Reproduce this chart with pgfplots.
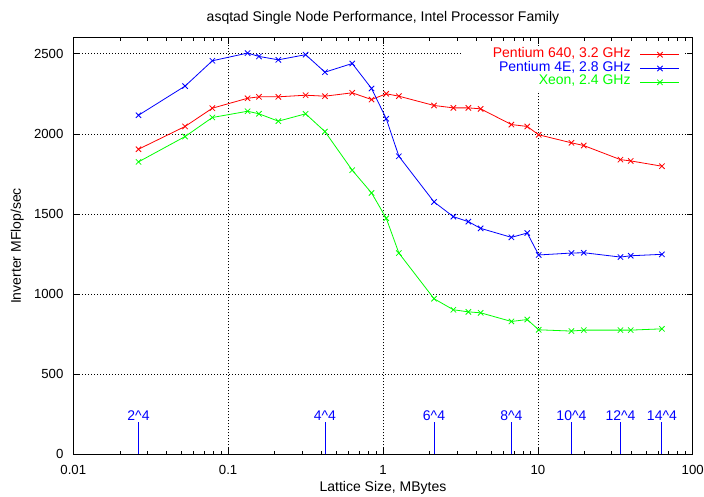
\documentclass[border=0pt]{standalone}
\usepackage{fontspec}
\setmainfont{Liberation Sans}
\usepackage{pgfplots}
\pgfplotsset{compat=1.18}
\begin{document}
\fontsize{14}{16}\selectfont
\begin{tikzpicture}[font=\fontsize{14}{16}\selectfont]
\useasboundingbox (-73.3pt,-42.7pt) rectangle (630.7pt,454.3pt);
\begin{axis}[
  at={(0,0)}, anchor=south west,
  scale only axis, width=619.4pt, height=416.6pt,
  xmode=log, xmin=0.01, xmax=100, ymin=0, ymax=2600,
  xtick={0.01,0.1,1,10,100}, xticklabels={0.01,0.1,1,10,100},
  ytick={0,500,1000,1500,2000,2500},
  minor ytick={},
  tick align=inside,
  major tick length=6pt, minor tick length=3pt,
  /pgf/number format/assume math mode=true,
  /pgf/number format/1000 sep={},
  tick label style={font=\fontsize{13.2}{15}\selectfont},
  xticklabel style={yshift=-6pt},
  yticklabel style={xshift=-5pt},
  grid=major,
  major grid style={black, line width=0.6pt, dash pattern=on 0.8pt off 2.2pt},
  axis line style={line width=0.9pt},
  every tick/.style={black, line width=0.6pt},
  title={asqtad Single Node Performance, Intel Processor Family},
  xlabel={Lattice Size, MBytes},
  ylabel={Inverter MFlop/sec},
  every axis title/.style={at={(axis description cs:0.5,1.0475)}, anchor=center},
  every axis x label/.style={at={(axis description cs:0.5,-0.0809)}, anchor=center},
  every axis y label/.style={at={(axis description cs:-0.0904,0.5)}, anchor=center, rotate=90},
  legend plot pos=right,
  legend cell align=right,
  legend image code/.code={\draw[mark repeat=2, mark phase=2, #1] plot coordinates {(0pt,0pt) (19.5pt,0pt) (39pt,0pt)};},
  legend style={at={(axis description cs:0.9845,0.981)}, anchor=north east, fill=white, draw=none,
    inner xsep=3pt, inner ysep=2pt, row sep=0pt, column sep=9pt,
    nodes={inner sep=0.5pt, text height=9pt, text depth=3.8pt}},
  every axis plot/.append style={line width=0.8pt, mark=x, mark size=3.8pt, mark options={solid}},
]
\addplot[ycomb, blue, line width=0.9pt, no markers, forget plot,
  nodes near coords, point meta=explicit symbolic,
  nodes near coords style={anchor=south, inner sep=1pt, text=blue}]
  coordinates {
  (0.02637,200) [2\textasciicircum 4]
  (0.4219,200) [4\textasciicircum 4]
  (2.136,200) [6\textasciicircum 4]
  (6.75,200) [8\textasciicircum 4]
  (16.48,200) [10\textasciicircum 4]
  (34.17,200) [12\textasciicircum 4]
  (63.3,200) [14\textasciicircum 4]
  };
\addplot[red] table {
x y
0.02637 1904
0.0527 2046
0.0791 2160
0.1335 2222
0.1582 2231
0.2109 2231
0.3164 2241
0.4219 2235
0.6328 2256
0.8438 2214
1.05 2250
1.266 2235
2.136 2177
2.848 2162
3.56 2162
4.271 2156
6.75 2058
8.54 2046
10.125 1994
16.48 1944
19.8 1927
34.17 1839
39.8 1831
63.3 1798
};
\addlegendentry{\hspace*{27pt}\textcolor{red}{Pentium 640, 3.2 GHz}}
\addplot[blue] table {
x y
0.02637 2116
0.0527 2298
0.0791 2456
0.1335 2504
0.1582 2483
0.2109 2462
0.3164 2494
0.4219 2385
0.6328 2439
0.8438 2283
1.05 2094
1.266 1860
2.136 1575
2.848 1483
3.56 1452
4.271 1410
6.75 1354
8.54 1381
10.125 1244
16.48 1256
19.8 1258
34.17 1231
39.8 1239
63.3 1248
};
\addlegendentry{\textcolor{blue}{Pentium 4E, 2.8 GHz}}
\addplot[green] table {
x y
0.02637 1825
0.0527 1983
0.0791 2102
0.1335 2141
0.1582 2125
0.2109 2079
0.3164 2125
0.4219 2014
0.6328 1773
0.8438 1631
1.05 1473
1.266 1256
2.136 971
2.848 902
3.56 889
4.271 883
6.75 829
8.54 841
10.125 777
16.48 769
19.8 775
34.17 775
39.8 775
63.3 783
};
\addlegendentry{\textcolor{green}{Xeon, 2.4 GHz}}
\end{axis}
\end{tikzpicture}
\end{document}
